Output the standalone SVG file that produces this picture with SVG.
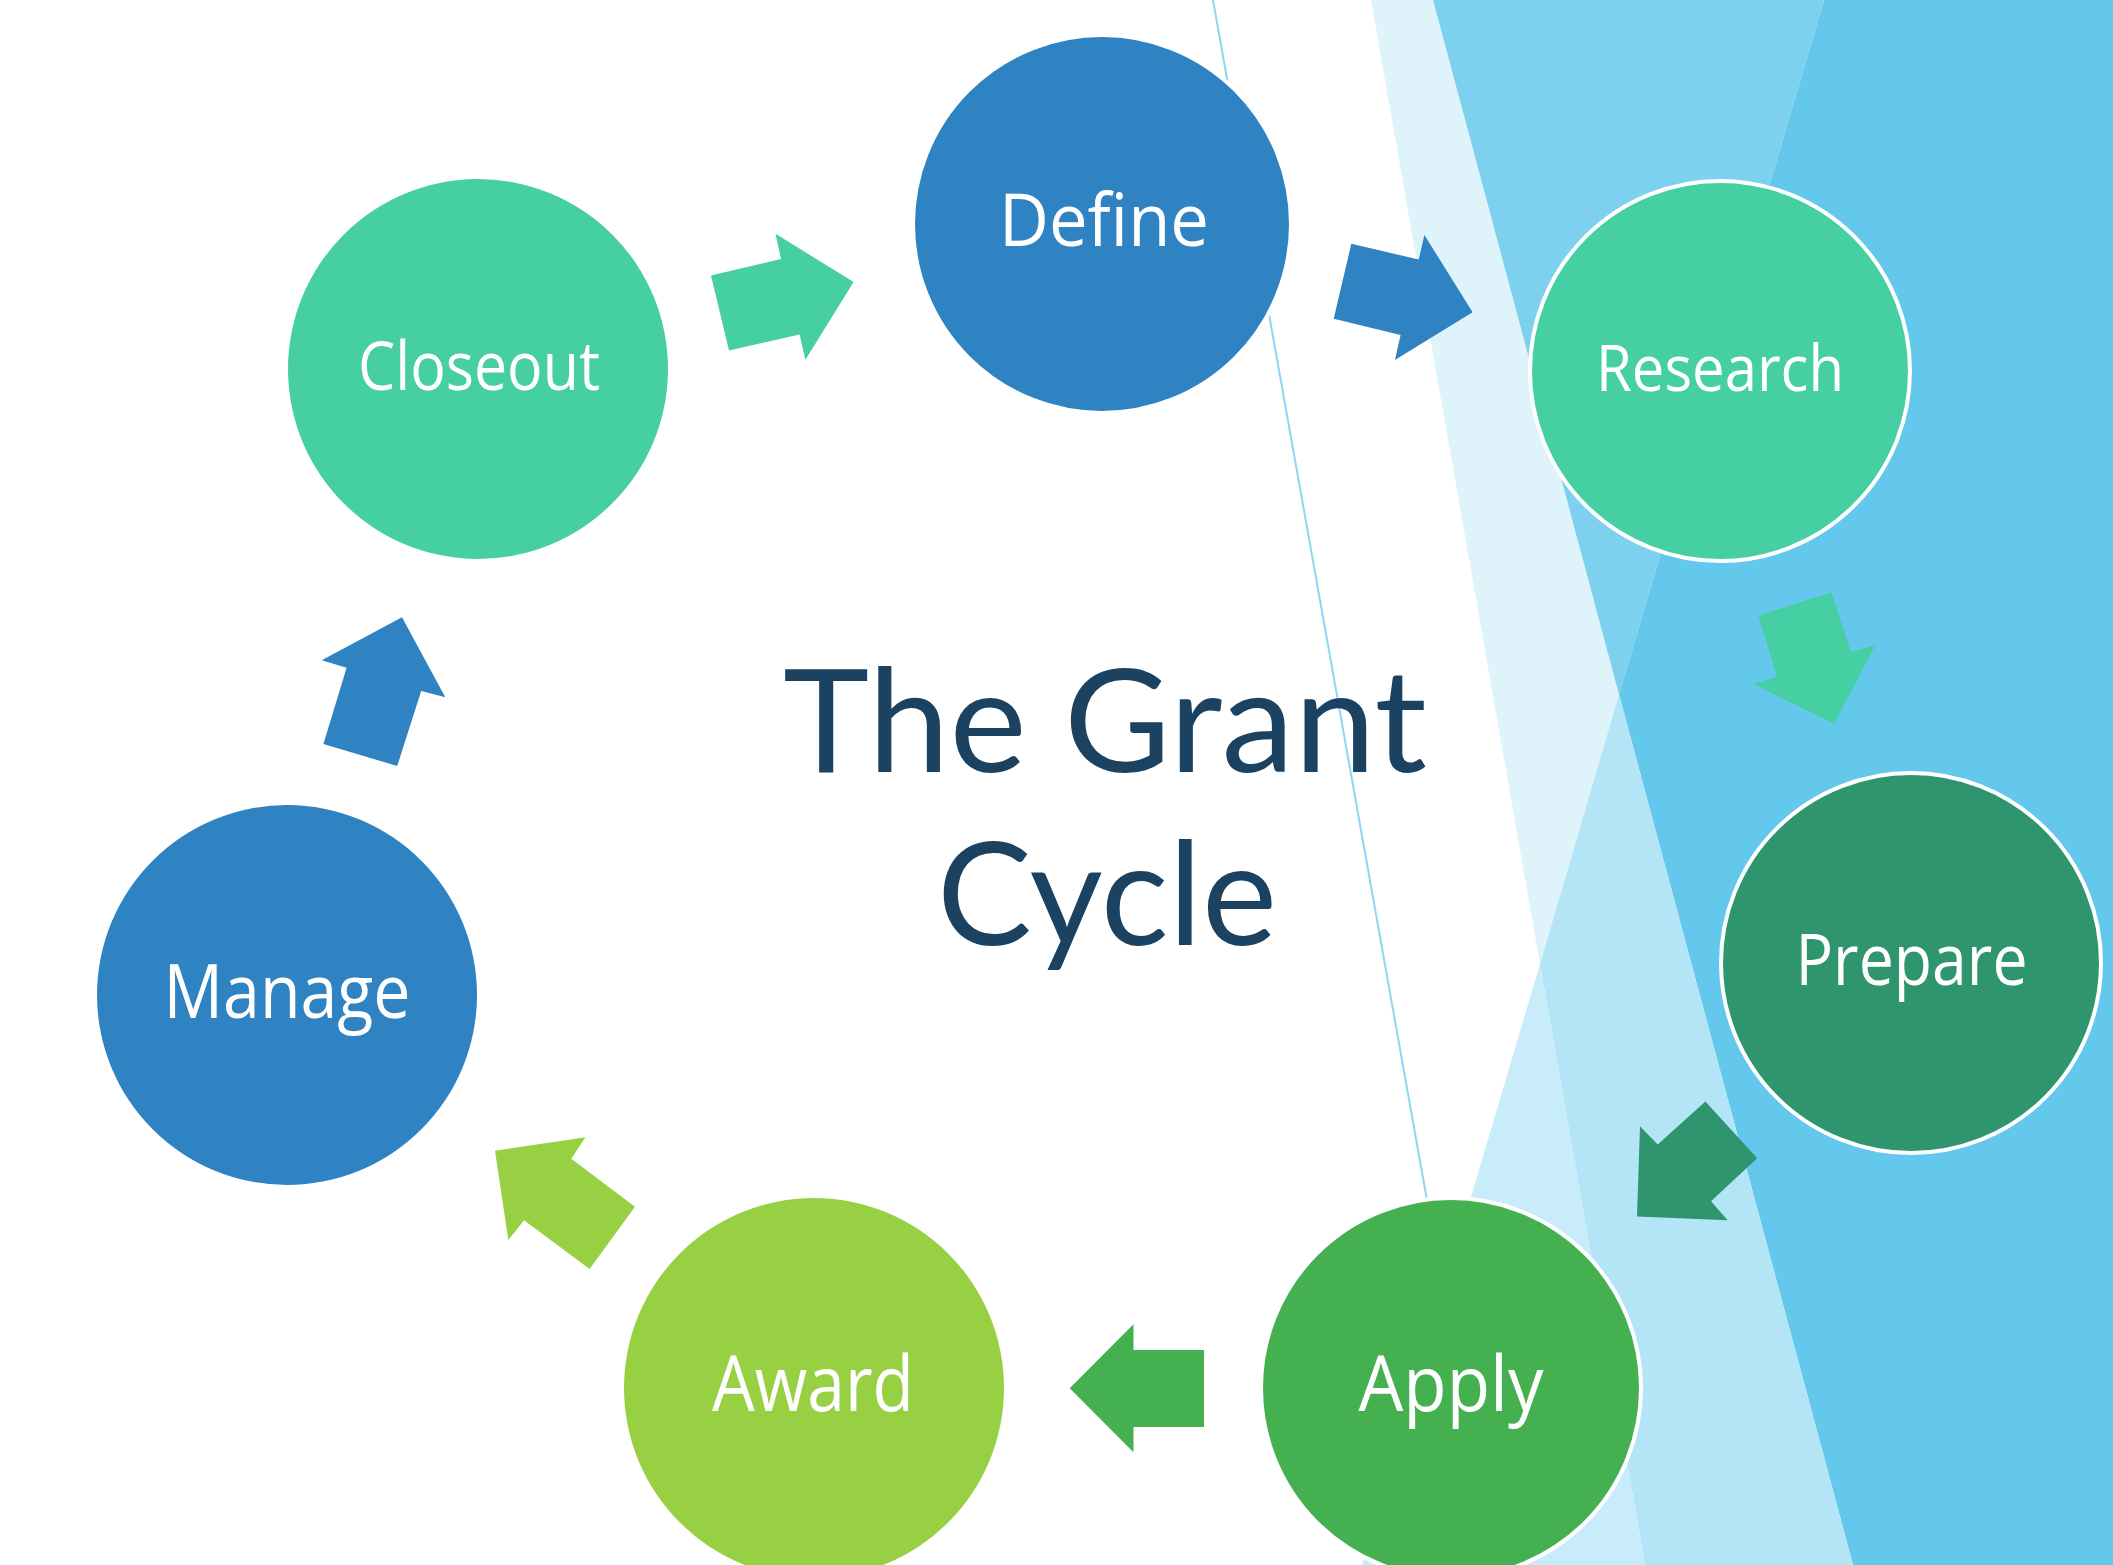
<svg xmlns="http://www.w3.org/2000/svg" width="2113" height="1565" viewBox="0 0 2113 1565">
<style>
.lbl{font-family:"Open Sans","Noto Sans","Liberation Sans",sans-serif;fill:#ffffff;text-anchor:middle}
.title{font-family:Lato,"Liberation Sans",sans-serif;fill:#1c4261;text-anchor:middle;font-size:143px}
.node{stroke:#ffffff;stroke-width:4}
.blue{fill:#2f83c3}
.teal{fill:#45cfa2}
.dgreen{fill:#2e956f}
.green{fill:#44b050}
.lime{fill:#97d143}
</style>
<rect x="0" y="0" width="2113" height="1565" fill="#ffffff"/>
<g id="background">
<polygon points="1371,0 1433,0 1619,694.5 1540,964" fill="#dff3fa"/>
<polygon points="1433,0 1824,0 1619,694.5" fill="#7dd1ef"/>
<polygon points="1824,0 2113,0 2113,1565 1853,1565 1619,694.5" fill="#64c8ec"/>
<polygon points="1619,694.5 1853,1565 1645,1565 1540,964" fill="#b3e5f7"/>
<polygon points="1540,964 1645,1565 1362,1565" fill="#c8ecf9"/>
<line x1="1213" y1="0" x2="1492" y2="1565" stroke="#8ed7f2" stroke-width="2"/>
</g>
<g id="connectors">
<polygon class="teal" points="711,275.5 781,259 775.5,233.8 853.6,282 805.4,359.7 799.6,334.5 729,350.6"/>
<polygon class="blue" points="1351.3,243.8 1418.7,259.5 1424.4,235 1472.6,312.3 1394.9,360.1 1400.6,334.9 1333.7,318.8"/>
<polygon class="teal" points="1758.3,615.7 1831.3,592.3 1851,652 1875.3,645 1834.3,724 1753.3,684 1777,677"/>
<polygon class="dgreen" points="1705.4,1101.5 1757.2,1158.2 1711,1201.2 1727.7,1220.3 1637,1216.6 1640,1126.2 1657.7,1144.6"/>
<polygon class="green" points="1204,1350 1133.5,1350 1133.5,1324.3 1069.7,1388.3 1133.5,1452.3 1133.5,1427 1204,1427"/>
<polygon class="lime" points="635,1206.8 571.3,1158.8 585.4,1137.2 495,1150.8 508.3,1240 524,1220.3 589.6,1269"/>
<polygon class="blue" points="402,617.2 445.3,697.2 421.2,691 397.2,766 323.4,744 346.6,667.7 321.7,660.3"/>
</g>
<g id="node-define">
<circle class="node blue" cx="1102" cy="224" r="189"/>
<text class="lbl" x="1104" y="246" font-size="74" textLength="210" lengthAdjust="spacingAndGlyphs">Define</text>
</g>
<g id="node-research">
<circle class="node teal" cx="1720" cy="371" r="190"/>
<text class="lbl" x="1720" y="391" font-size="64" textLength="248" lengthAdjust="spacingAndGlyphs">Research</text>
</g>
<g id="node-prepare">
<circle class="node dgreen" cx="1911" cy="963" r="190"/>
<text class="lbl" x="1911.5" y="985" font-size="71" textLength="232" lengthAdjust="spacingAndGlyphs">Prepare</text>
</g>
<g id="node-apply">
<circle class="node green" cx="1451" cy="1388" r="190"/>
<text class="lbl" x="1451" y="1411" font-size="77" textLength="185" lengthAdjust="spacingAndGlyphs">Apply</text>
</g>
<g id="node-award">
<circle class="lime" cx="814" cy="1388" r="190"/>
<text class="lbl" x="813" y="1411" font-size="77" textLength="202" lengthAdjust="spacingAndGlyphs">Award</text>
</g>
<g id="node-manage">
<circle class="blue" cx="287" cy="995" r="190"/>
<text class="lbl" x="287" y="1018" font-size="75" textLength="247" lengthAdjust="spacingAndGlyphs">Manage</text>
</g>
<g id="node-closeout">
<circle class="teal" cx="478" cy="369" r="190"/>
<text class="lbl" x="479" y="390" font-size="67" textLength="242" lengthAdjust="spacingAndGlyphs">Closeout</text>
</g>
<g id="title">
<text class="title"><tspan x="1105" y="772" textLength="644" lengthAdjust="spacingAndGlyphs">The Grant</tspan><tspan x="1107" y="945" textLength="340" lengthAdjust="spacingAndGlyphs">Cycle</tspan></text>
</g>
</svg>
